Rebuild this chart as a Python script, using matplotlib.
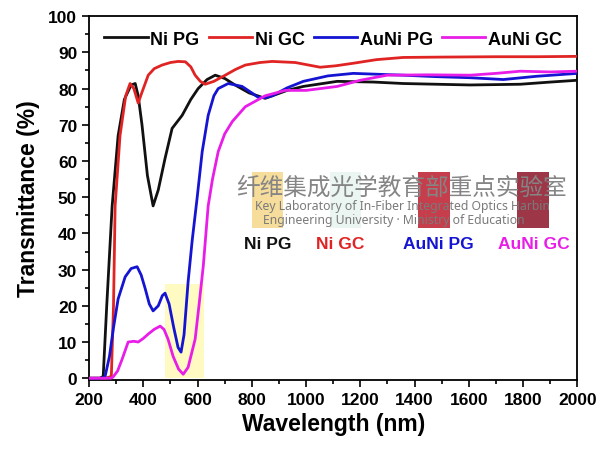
import numpy as np
import matplotlib.pyplot as plt
from matplotlib.patches import Rectangle

plt.rcParams['font.family'] = ['Liberation Sans', 'DejaVu Sans']
plt.rcParams['font.weight'] = 'bold'

# wavelength (nm) / transmittance (%)
wl_ni_pg = [200, 240, 252, 265, 285, 307, 330, 355, 370, 381, 395, 415, 436, 455, 480, 506, 543, 575, 602, 635, 665, 700, 738, 790, 849, 868, 930, 990, 1115, 1250, 1358, 1480, 1605, 1700, 1790, 1900, 2000]
t_ni_pg = [0, 0, 0.5, 20, 47.6, 67, 77, 81, 81.4, 78, 70, 56, 47.6, 52, 60.7, 69, 72.6, 77, 80, 82.5, 83.7, 82.8, 81, 78.8, 77.3, 77.8, 79.5, 80.6, 82, 81.8, 81.4, 81.2, 81, 81.1, 81.2, 81.8, 82.3]

wl_ni_gc = [200, 260, 282, 290, 296, 314, 335, 351, 365, 381, 395, 418, 440, 469, 500, 528, 555, 575, 591, 610, 628, 660, 702, 740, 776, 830, 875, 960, 1052, 1110, 1174, 1260, 1358, 1500, 1700, 1850, 2000]
t_ni_gc = [0, 0, 0.5, 20, 47.6, 67, 78, 81.4, 80, 76, 79, 83.7, 85.5, 86.5, 87.2, 87.5, 87.4, 86, 83.7, 82, 81.2, 82, 83.7, 85.3, 86.5, 87.2, 87.5, 87.2, 85.9, 86.3, 87, 88, 88.6, 88.7, 88.8, 88.8, 88.9]

wl_auni_pg = [200, 250, 259, 275, 290, 307, 333, 355, 377, 392, 407, 422, 436, 455, 470, 480, 495, 512, 528, 539, 550, 565, 580, 598, 617, 639, 660, 676, 713, 764, 800, 823, 850, 875, 930, 990, 1080, 1174, 1358, 1480, 1605, 1727, 1850, 2000]
t_auni_pg = [0, 0, 0.5, 6, 14, 21.9, 28, 30.3, 30.8, 28.5, 24.7, 20.5, 18.6, 20, 22.8, 23.5, 20.5, 14, 8.5, 7.2, 12, 26.6, 38, 49.6, 62.6, 72.6, 78, 80, 81.4, 80.6, 78.8, 77.6, 77.5, 78, 80.2, 82, 83.5, 84.2, 83.7, 83.3, 83, 82.5, 83.4, 84.2]

wl_auni_gc = [200, 280, 288, 305, 322, 344, 365, 381, 400, 418, 440, 462, 476, 491, 510, 530, 547, 565, 591, 605, 621, 639, 655, 676, 700, 728, 776, 849, 923, 1000, 1115, 1200, 1299, 1450, 1605, 1700, 1790, 1900, 2000]
t_auni_gc = [0, 0, 0.3, 2, 5.3, 10, 10.2, 10, 11, 12.2, 13.5, 14.4, 13.5, 10.8, 6, 2.5, 1.1, 3, 10.8, 20, 31, 47.6, 55, 62.6, 67.5, 70.9, 75, 78, 79.5, 79.5, 80.6, 82.3, 83.7, 83.8, 83.7, 84.2, 84.8, 84.6, 84.8]

series = [
    (wl_ni_pg, t_ni_pg, 'Ni PG', '#111111'),
    (wl_ni_gc, t_ni_gc, 'Ni GC', '#e02424'),
    (wl_auni_pg, t_auni_pg, 'AuNi PG', '#1414d2'),
    (wl_auni_gc, t_auni_gc, 'AuNi GC', '#e81ee8'),
]

fig = plt.figure(figsize=(6.02, 4.52), dpi=100)
ax = fig.add_axes([0.148, 0.157, 0.811, 0.805])

# yellow highlight band
ax.add_patch(Rectangle((480, 0), 144, 26, color='#fff59a', alpha=0.6, lw=0, zorder=0))

for x, y, lab, c in series:
    ax.plot(x, y, color=c, lw=2.0, label=lab, zorder=3)

# watermark / sample photos
photos = [(801, '#f0c24a', 0.55), (1089, '#d8ece6', 0.5), (1414, '#c02838', 0.9), (1779, '#8c1428', 0.85)]
for x0, col, a in photos:
    ax.add_patch(Rectangle((x0, 41.5), 115, 15.5, color=col, alpha=a, lw=0, zorder=1))
ax.text(1352, 52.9, '纤维集成光学教育部重点实验室', ha='center', va='center', fontsize=17,
        color='#858585', family=['Noto Sans CJK SC', 'DejaVu Sans'], weight='medium', zorder=2)
ax.text(1355, 47.6, 'Key Laboratory of In-Fiber Integrated Optics Harbin', ha='center', va='center',
        fontsize=8.8, color='#7a7a7a', family=['Noto Sans', 'DejaVu Sans'], weight='normal', zorder=2)
ax.text(1325, 43.8, 'Engineering University · Ministry of Education', ha='center', va='center',
        fontsize=8.8, color='#7a7a7a', family=['Noto Sans', 'DejaVu Sans'], weight='normal', zorder=2)
for xl, lab, c in zip([860, 1126, 1487, 1838], ['Ni PG', 'Ni GC', 'AuNi PG', 'AuNi GC'],
                      ['#111111', '#e02424', '#1414d2', '#e81ee8']):
    ax.text(xl, 37.1, lab, ha='center', va='center', fontsize=12.5, color=c, weight='bold', zorder=2)

ax.set_xlim(200, 2000)
ax.set_ylim(-0.5, 100)
ax.set_xticks(np.arange(200, 2001, 200))
ax.set_xticks(np.arange(300, 2000, 200), minor=True)
ax.set_yticks(np.arange(0, 101, 10))
ax.set_yticks(np.arange(5, 100, 10), minor=True)
ax.tick_params(which='major', length=5, width=1.2, labelsize=12.5, direction='out')
ax.tick_params(which='minor', length=3, width=1.2, direction='out')
for s in ax.spines.values():
    s.set_linewidth(1.3)

ax.set_xlabel('Wavelength (nm)', fontsize=16.5, weight='bold')
ax.set_ylabel('Transmittance (%)', fontsize=16.5, weight='bold', labelpad=6)

ax.legend(loc='upper center', bbox_to_anchor=(0.5, 1.0), ncol=4, frameon=False, fontsize=13,
          handlelength=2.4, handletextpad=0.15, columnspacing=0.5, borderaxespad=0.4)

fig.savefig('out.png', dpi=100)
